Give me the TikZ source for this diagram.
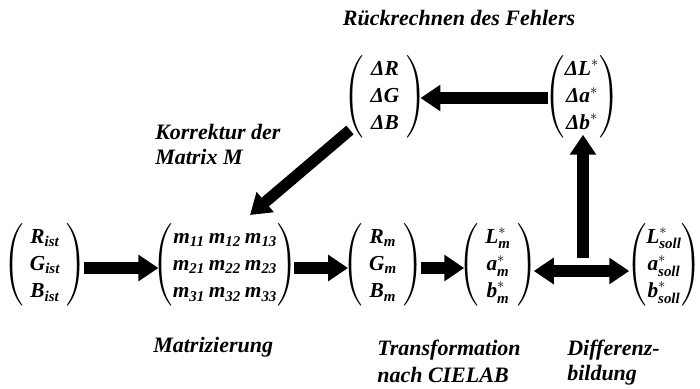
\documentclass[tikz,border=0pt]{standalone}
\usepackage{amsmath}
\usepackage{fontspec}
\setmainfont{Liberation Serif}
\usetikzlibrary{arrows.meta,calc}
\tikzset{
  vec/.style={inner sep=0pt, font=\fontsize{16}{20.5}\selectfont\bfseries\itshape},
  lbl/.style={inner sep=0pt, font=\fontsize{16.5}{20}\selectfont\bfseries\itshape, align=left},
  fat/.style={line width=8.5pt, -{Triangle[length=15pt,width=19pt]}, shorten >=-4.5pt, shorten <=-2.5pt},
  fatboth/.style={line width=8.5pt, {Triangle[length=15pt,width=19pt]}-{Triangle[length=15pt,width=19pt]}, shorten >=-2.5pt, shorten <=-3pt}
}
\newcommand{\tx}[1]{\text{#1}}
\begin{document}
\begin{tikzpicture}[x=0.75pt,y=-0.75pt]
\useasboundingbox (0,0) rectangle (700,389);
% vectors
\node[vec] (v1) at (45,265) {$\left(\begin{array}{c}\tx{R}_{\tx{ist}}\\ \tx{G}_{\tx{ist}}\\ \tx{B}_{\tx{ist}}\end{array}\right)$};
\node[vec] (M) at (225,265) {$\left(\begin{array}{@{}c@{\,}c@{\,}c@{}}\tx{m}_{\tx{11}} & \tx{m}_{\tx{12}} & \tx{m}_{\tx{13}}\\ \tx{m}_{\tx{21}} & \tx{m}_{\tx{22}} & \tx{m}_{\tx{23}}\\ \tx{m}_{\tx{31}} & \tx{m}_{\tx{32}} & \tx{m}_{\tx{33}}\end{array}\right)$};
\node[vec] (vm) at (383,265) {$\left(\begin{array}{c}\tx{R}_{\tx{m}}\\ \tx{G}_{\tx{m}}\\ \tx{B}_{\tx{m}}\end{array}\right)$};
\node[vec] (lm) at (498,265) {$\left(\begin{array}{c}\tx{L}^{*}_{\tx{m}}\\ \tx{a}^{*}_{\tx{m}}\\ \tx{b}^{*}_{\tx{m}}\end{array}\right)$};
\node[vec] (ls) at (664,265) {$\left(\begin{array}{@{}c@{}}\tx{L}^{*}_{\tx{soll}}\\ \tx{a}^{*}_{\tx{soll}}\\ \tx{b}^{*}_{\tx{soll}}\end{array}\right)$};
\node[vec] (dl) at (582,97) {$\left(\begin{array}{@{}c@{}}\tx{ΔL}^{*}\\ \tx{Δa}^{*}\\ \tx{Δb}^{*}\end{array}\right)$};
\node[vec] (dr) at (385,97) {$\left(\begin{array}{c}\tx{ΔR}\\ \tx{ΔG}\\ \tx{ΔB}\end{array}\right)$};
% labels
\node[lbl] (t1) at (459,18) {Rückrechnen des Fehlers};
\node[lbl, anchor=west] (t2) at (155,132) {Korrektur der};
\node[lbl, anchor=west] (t3) at (155,157) {Matrix M};
\node[lbl, anchor=west] (t4) at (153,347) {Matrizierung};
\node[lbl, anchor=west] (t5) at (377,350) {Transformation};
\node[lbl, anchor=west] (t6) at (377,375) {nach CIELAB};
\node[lbl, anchor=west] (t7) at (567,350) {Differenz-};
\node[lbl, anchor=west] (t8) at (567,375) {bildung};
% arrows
\coordinate (a1s) at (v1.east |- 0,268);
\coordinate (a1e) at (M.west |- 0,268);
\draw[fat] (a1s) -- (a1e);
\coordinate (a2s) at (M.east |- 0,268);
\coordinate (a2e) at (vm.west |- 0,268);
\draw[fat] (a2s) -- (a2e);
\coordinate (a3s) at (vm.east |- 0,268);
\coordinate (a3e) at (lm.west |- 0,268);
\draw[fat] (a3s) -- (a3e);
\coordinate (a4s) at (lm.east |- 0,271);
\coordinate (a4e) at (ls.west |- 0,271);
\draw[fatboth] (a4s) -- (a4e);
\coordinate (j) at (583,258);
\draw[fat, shorten <=0pt, shorten >=-3pt] (j) -- (j |- dl.south);
\coordinate (a5s) at (dl.west |- 0,98);
\coordinate (a5e) at (dr.east |- 0,98);
\draw[fat] (a5s) -- (a5e);
\coordinate (d1) at (350,130);
\coordinate (d2) at (250,215);
\draw[fat, shorten <=0pt, shorten >=0pt] (d1) -- (d2);
\end{tikzpicture}
\end{document}
